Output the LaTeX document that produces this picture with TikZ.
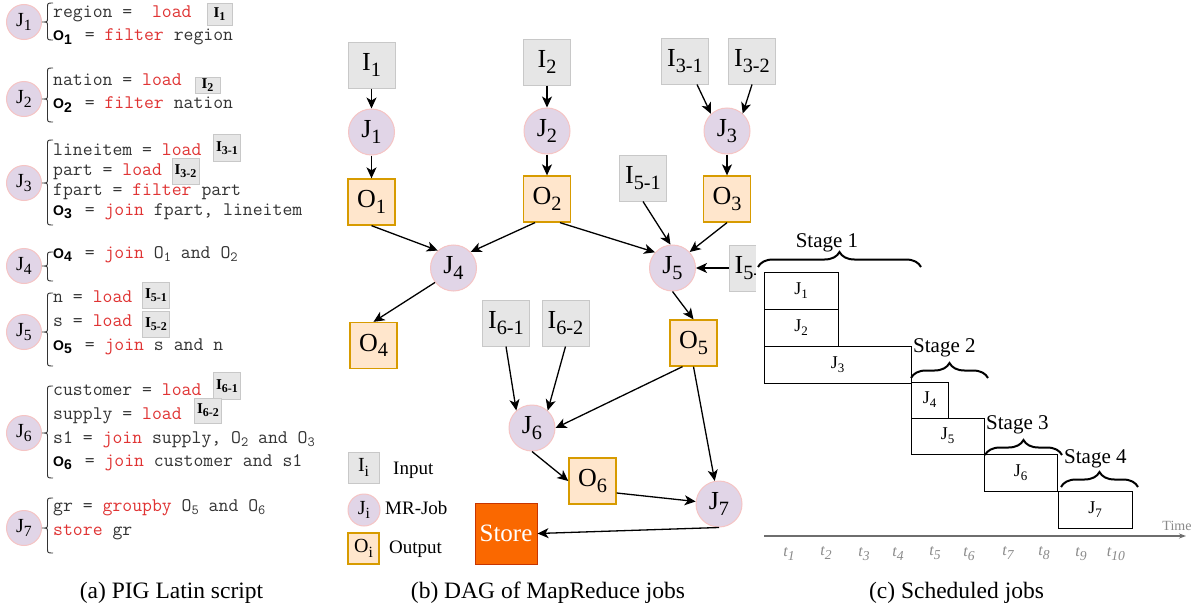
\documentclass[tikz,border=0pt]{standalone}
\usepackage{fontspec}
\setmainfont{Liberation Serif}
\newfontfamily\sansf{Liberation Sans}
\usetikzlibrary{arrows.meta,decorations.pathreplacing}
\definecolor{igray}{HTML}{E6E6E6}
\definecolor{igrayd}{HTML}{C8C8C8}
\definecolor{jpur}{HTML}{E1D5E7}
\definecolor{jpink}{HTML}{F5C4C4}
\definecolor{oor}{HTML}{FFE6CC}
\definecolor{oord}{HTML}{D79B00}
\definecolor{storef}{HTML}{FA6800}
\definecolor{stored}{HTML}{C73500}
\definecolor{kwred}{HTML}{E03333}
\definecolor{codegray}{HTML}{333333}
\definecolor{tgray}{HTML}{8A8A8A}
\makeatletter
\newcommand\dn[2][0.78]{\raisebox{-0.22em}{\fontsize{\the\dimexpr #1\dimexpr\f@size pt\relax\relax}{0pt}\selectfont #2}}
\makeatother
\newcommand\kw[1]{\textcolor{kwred}{#1}}
\newcommand\ob[1]{{\sansf\bfseries\color{black}\fontsize{14}{14}\selectfont O\raisebox{-3.5pt}{#1}}\kern3pt\relax}
\newcommand\om[1]{O\raisebox{-3pt}{\fontsize{14}{14}\selectfont #1}}
\newcommand\ib[1]{\textbf{I\raisebox{-3pt}{\fontsize{12}{12}\selectfont #1}}}
\newcommand\lbr[3]{\draw[lbrace] (53,#1) .. controls (47.5,#1) .. (47.5,#1+5) -- (47.5,#2-4) .. controls (47.5,#2) .. (42,#2) .. controls (47.5,#2) .. (47.5,#2+4) -- (47.5,#3-5) .. controls (47.5,#3) .. (53,#3);}
\frenchspacing
\begin{document}
\begin{tikzpicture}[x=1pt,y=-1pt,
  ibox/.style={rectangle, fill=igray, draw=igrayd, line width=1pt, minimum width=47pt, minimum height=46pt, inner sep=0pt, font=\fontsize{26}{28}\selectfont},
  jcirc/.style={circle, fill=jpur, draw=jpink, line width=1pt, minimum size=46pt, inner sep=0pt, font=\fontsize{26}{28}\selectfont},
  obox/.style={rectangle, fill=oor, draw=oord, line width=1.3pt, minimum width=47pt, minimum height=46pt, inner sep=0pt, font=\fontsize{26}{28}\selectfont},
  arr/.style={draw=black, line width=1.3pt, -{Stealth[length=11pt,width=10pt,inset=3pt]}},
  code/.style={anchor=base west, inner sep=0pt, font=\ttfamily\fontsize{19.2}{20}\selectfont, text=codegray},
  smallib/.style={rectangle, fill=igray, draw=igrayd, line width=0.8pt, inner sep=0pt, font=\fontsize{15}{15}\selectfont, text=black},
  ljob/.style={circle, fill=jpur, draw=jpink, line width=1pt, minimum size=35pt, inner sep=0pt, font=\fontsize{20}{20}\selectfont},
  lbrace/.style={draw=codegray, line width=0.9pt},
  gbox/.style={rectangle, draw=black, line width=0.8pt, fill=white, inner sep=0pt, font=\fontsize{18}{18}\selectfont},
  gbrace/.style={draw=black, line width=2pt, decorate, decoration={brace, amplitude=15pt}},
  stagelab/.style={inner sep=0pt, font=\fontsize{21}{21}\selectfont},
  tlab/.style={inner sep=0pt, text=tgray, font=\itshape\fontsize{16}{16}\selectfont},
  captext/.style={inner sep=0pt, font=\fontsize{23.5}{24}\selectfont},
  leg/.style={inner sep=0pt, anchor=west, font=\fontsize{19}{19}\selectfont}
]
\fill[white] (0,0) rectangle (1203,613);
\useasboundingbox (0,0) rectangle (1203,613);

% ---------------- (a) PIG Latin script ----------------
\node[ljob] (lj1) at (24,22) {J\dn{1}};
\node[ljob] (lj2) at (24,99) {J\dn{2}};
\node[ljob] (lj3) at (24,183) {J\dn{3}};
\node[ljob] (lj4) at (24,266) {J\dn{4}};
\node[ljob] (lj5) at (24,332) {J\dn{5}};
\node[ljob] (lj6) at (24,433) {J\dn{6}};
\node[ljob] (lj7) at (24,528) {J\dn{7}};
\lbr{3}{22}{40}
\lbr{68}{99}{122}
\lbr{140}{183}{225}
\lbr{252}{266}{281}
\lbr{293}{332}{366}
\lbr{386}{433}{478}
\lbr{498}{528}{553}

\node[code] (c11) at (53,17.5) {region =\ \ \kw{load}};
\node[code] (c12) at (53,40.5) {\ob{1} = \kw{filter} region};
\node[code] (c21) at (53,85.5) {nation = \kw{load}};
\node[code] (c22) at (53,108.5) {\ob{2} = \kw{filter} nation};
\node[code] (c31) at (53,155) {lineitem = \kw{load}};
\node[code] (c32) at (53,175) {part = \kw{load}};
\node[code] (c33) at (53,195) {fpart = \kw{filter} part};
\node[code] (c34) at (53,215) {\ob{3} = \kw{join} fpart, lineitem};
\node[code] (c41) at (53,258) {\ob{4} = \kw{join} \om{1} and \om{2}};
\node[code] (c51) at (53,302) {n = \kw{load}};
\node[code] (c52) at (53,326) {s = \kw{load}};
\node[code] (c53) at (53,350) {\ob{5} = \kw{join} s and n};
\node[code] (c61) at (53,395) {customer = \kw{load}};
\node[code] (c62) at (53,419) {supply = \kw{load}};
\node[code] (c63) at (53,443) {s1 = \kw{join} supply, \om{2} and \om{3}};
\node[code] (c64) at (53,466) {\ob{6} = \kw{join} customer and s1};
\node[code] (c71) at (53,511) {gr = \kw{groupby} \om{5} and \om{6}};
\node[code] (c72) at (53,535) {\kw{store} gr};

\node[smallib, minimum width=25pt, minimum height=22pt] (s1) at (219.5,14) {\ib{1}};
\node[smallib, minimum width=25pt, minimum height=16pt] (s2) at (207.5,85) {\ib{2}};
\node[smallib, minimum width=27pt, minimum height=27pt] (s31) at (227,148) {\ib{3-1}};
\node[smallib, minimum width=27pt, minimum height=26pt] (s32) at (185.5,171) {\ib{3-2}};
\node[smallib, minimum width=27pt, minimum height=26pt] (s51) at (156,295.5) {\ib{5-1}};
\node[smallib, minimum width=27pt, minimum height=26pt] (s52) at (156,324.5) {\ib{5-2}};
\node[smallib, minimum width=27pt, minimum height=27pt] (s61) at (227,386) {\ib{6-1}};
\node[smallib, minimum width=27pt, minimum height=25pt] (s62) at (208,410.5) {\ib{6-2}};

\node[captext] (capa) at (171.5,593) {(a) PIG Latin script};

% ---------------- (b) DAG ----------------
\node[ibox] (I1) at (371.5,65) {I\dn{1}};
\node[jcirc] (J1) at (371.5,132) {J\dn{1}};
\node[obox] (O1) at (371.5,202) {O\dn{1}};
\node[ibox] (I2) at (547,62) {I\dn{2}};
\node[jcirc] (J2) at (547,131) {J\dn{2}};
\node[obox] (O2) at (547,199) {O\dn{2}};
\node[ibox] (I31) at (685,61) {I\dn{3-1}};
\node[ibox] (I32) at (752,61) {I\dn{3-2}};
\node[jcirc] (J3) at (727,131) {J\dn{3}};
\node[obox] (O3) at (727,199) {O\dn{3}};
\node[ibox] (I51) at (643,178) {I\dn{5-1}};
\node[jcirc] (J4) at (453.5,268) {J\dn{4}};
\node[jcirc] (J5) at (672.5,268) {J\dn{5}};
\node[ibox] (I52) at (752.5,268) {I\dn{5-2}};
\node[obox] (O4) at (373.5,345.5) {O\dn{4}};
\node[ibox] (I61) at (506,323) {I\dn{6-1}};
\node[ibox] (I62) at (565.5,323) {I\dn{6-2}};
\node[obox] (O5) at (693.5,343) {O\dn{5}};
\node[jcirc] (J6) at (532,428) {J\dn{6}};
\node[obox] (O6) at (592.5,481) {O\dn{6}};
\node[jcirc] (J7) at (719,504) {J\dn{7}};
\node[rectangle, fill=storef, draw=stored, line width=1pt, minimum width=62pt, minimum height=61pt, inner sep=0pt, text=white, font=\fontsize{25}{25}\selectfont] (St) at (506,533.5) {Store};

\draw[arr] (I1) -- (J1);
\draw[arr] (J1) -- (O1);
\draw[arr] (I2) -- (J2);
\draw[arr] (J2) -- (O2);
\draw[arr] ([xshift=12pt]I31.south) -- (J3.133);
\draw[arr] (I32.south) -- (J3.48);
\draw[arr] (J3) -- (O3);
\draw[arr] (O1.south) -- (J4.132);
\draw[arr] ([xshift=-12pt]O2.south) -- (J4.43);
\draw[arr] ([xshift=13pt]O2.south) -- (J5.138);
\draw[arr] (I51.south) -- (J5.95);
\draw[arr] (O3.south) -- (J5.43);
\draw[arr] (I52.west) -- (J5.east);
\draw[arr] (J4.218) -- (O4.north);
\draw[arr] (J5.south) -- (O5.north);
\draw[arr] (I61.south) -- (J6.132);
\draw[arr] (I62.south) -- (J6.48);
\draw[arr] ([xshift=-11pt]O5.south) -- (J6.east);
\draw[arr] (O5.south) -- (J7);
\draw[arr] (J6.south) -- (O6.west);
\draw[arr] ([yshift=-12pt]O6.east) -- (J7);
\draw[arr] (J7.south) -- (St.east);

% legend
\node[rectangle, fill=igray, draw=igrayd, line width=1pt, minimum size=31pt, inner sep=0pt, font=\fontsize{20}{20}\selectfont] (LI) at (363.5,467.5) {I\dn{i}};
\node[circle, fill=jpur, draw=jpink, line width=1pt, minimum size=32pt, inner sep=0pt, font=\fontsize{20}{20}\selectfont] (LJ) at (364,510) {J\dn{i}};
\node[rectangle, fill=oor, draw=oord, line width=1.3pt, minimum size=31pt, inner sep=0pt, font=\fontsize{20}{20}\selectfont] (LO) at (363.5,548.5) {O\dn{i}};
\node[leg] (LIt) at (393,470) {Input};
\node[leg] (LJt) at (385,508) {MR-Job};
\node[leg] (LOt) at (389,549) {Output};

\node[captext] (capb) at (548,593) {(b) DAG of MapReduce jobs};

% ---------------- (c) Scheduled jobs ----------------
\fill[white] (756,240) rectangle (800,300);
\node[gbox, minimum width=74pt, minimum height=37pt] (g1) at (801,290.5) {J\dn[0.72]{1}};
\node[gbox, minimum width=74pt, minimum height=37pt] (g2) at (801,327.5) {J\dn[0.72]{2}};
\node[gbox, minimum width=147pt, minimum height=37pt] (g3) at (837.5,364.5) {J\dn[0.72]{3}};
\node[gbox, minimum width=37pt, minimum height=36pt] (g4) at (929.5,400) {J\dn[0.72]{4}};
\node[gbox, minimum width=73pt, minimum height=36pt] (g5) at (947.5,436) {J\dn[0.72]{5}};
\node[gbox, minimum width=73pt, minimum height=37pt] (g6) at (1020.5,472.5) {J\dn[0.72]{6}};
\node[gbox, minimum width=74pt, minimum height=37pt] (g7) at (1095,509.5) {J\dn[0.72]{7}};

\draw[gbrace] (758,267) -- (921,267);
\draw[gbrace] (911,378) -- (988,378);
\draw[gbrace] (985,455) -- (1062,455);
\draw[gbrace] (1061,487) -- (1138,487);
\node[stagelab] (st1) at (827,243) {Stage 1};
\node[stagelab, anchor=west] (st2) at (913,348) {Stage 2};
\node[stagelab, anchor=west] (st3) at (986,425) {Stage 3};
\node[stagelab, anchor=west] (st4) at (1064,459) {Stage 4};

\coordinate (ax0) at (764,536);
\coordinate (ax1) at (1186,536);
\draw[draw=tgray!80!black, line width=1.2pt, -{Stealth[length=7pt,width=5pt]}] (ax0) -- (ax1);
\node[inner sep=0pt, text=tgray, font=\fontsize{14}{14}\selectfont] (tm) at (1177,526) {Time};

\node[tlab] (t1) at (789,554) {t\dn[0.85]{1}};
\node[tlab] (t2) at (826,553) {t\dn[0.85]{2}};
\node[tlab] (t3) at (864,554) {t\dn[0.85]{3}};
\node[tlab] (t4) at (898,554) {t\dn[0.85]{4}};
\node[tlab] (t5) at (935,553) {t\dn[0.85]{5}};
\node[tlab] (t6) at (969,554) {t\dn[0.85]{6}};
\node[tlab] (t7) at (1008,553) {t\dn[0.85]{7}};
\node[tlab] (t8) at (1044,553) {t\dn[0.85]{8}};
\node[tlab] (t9) at (1081,554) {t\dn[0.85]{9}};
\node[tlab] (t10) at (1116,554) {t\dn[0.85]{10}};

\node[captext] (capc) at (956.5,593) {(c) Scheduled jobs};
\end{tikzpicture}
\end{document}
